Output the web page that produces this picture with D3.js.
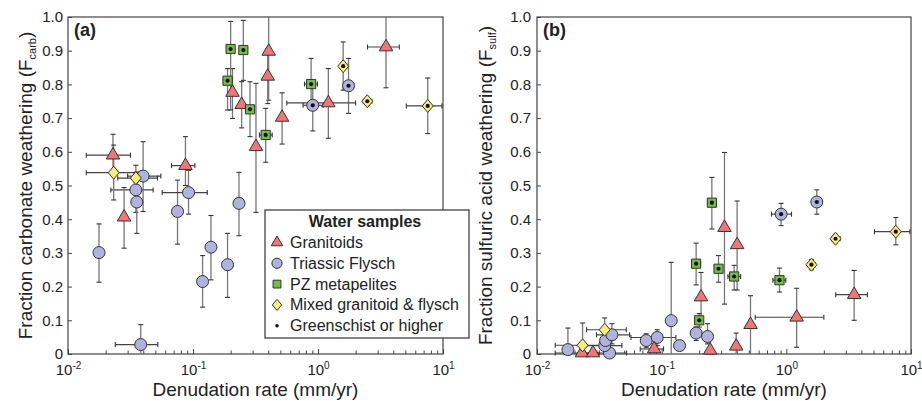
<!DOCTYPE html>
<html>
<head>
<meta charset="utf-8">
<script src="https://cdn.jsdelivr.net/npm/d3@7"></script>
<style>
body { margin: 0; background: #fff; }
svg { font-family: "Liberation Sans", Arial, sans-serif; }
</style>
</head>
<body>
<svg id="chart" width="922" height="401"></svg>
<script>
// one row per water sample:
// [rate, rateLo, rateHi, fcarb, fcarbLo, fcarbHi, fsulf, fsulfLo, fsulfHi, greenschist]
var granitoids = [
    [0.0229, 0.0140, 0.0316, 0.590, 0.530, 0.652, 0.003, 0.003, 0.003, 0],
    [0.0281, 0.0281, 0.0281, 0.406, 0.314, 0.494, 0.003, 0.003, 0.003, 0],
    [0.0870, 0.0673, 0.1035, 0.559, 0.500, 0.645, 0.015, 0.000, 0.030, 0],
    [0.207, 0.207, 0.207, 0.776, 0.699, 0.847, 0.169, 0.100, 0.242, 0],
    [0.245, 0.245, 0.245, 0.740, 0.671, 0.808, 0.011, 0.000, 0.060, 0],
    [0.403, 0.403, 0.403, 0.898, 0.753, 1.050, 0.324, 0.190, 0.454, 0],
    [0.396, 0.396, 0.396, 0.824, 0.743, 0.905, 0.023, 0.000, 0.062, 0],
    [0.319, 0.319, 0.319, 0.615, 0.420, 0.803, 0.375, 0.148, 0.598, 0],
    [0.516, 0.516, 0.516, 0.702, 0.623, 0.775, 0.087, 0.000, 0.173, 0],
    [1.21, 0.563, 2.00, 0.745, 0.640, 0.847, 0.109, 0.020, 0.195, 0],
    [3.50, 2.49, 4.47, 0.911, 0.790, 1.030, 0.176, 0.100, 0.248, 0]
];

var flysch = [
    [0.0177, 0.0177, 0.0177, 0.301, 0.213, 0.386, 0.013, 0.000, 0.077, 0],
    [0.0382, 0.0239, 0.0523, 0.028, 0.000, 0.087, 0.003, 0.003, 0.003, 0],
    [0.0349, 0.0220, 0.0480, 0.487, 0.420, 0.560, 0.025, 0.000, 0.050, 0],
    [0.0355, 0.0355, 0.0355, 0.451, 0.358, 0.540, 0.040, 0.010, 0.070, 0],
    [0.0399, 0.0300, 0.0553, 0.528, 0.423, 0.630, 0.057, 0.030, 0.090, 0],
    [0.0752, 0.0752, 0.0752, 0.423, 0.326, 0.516, 0.040, 0.020, 0.060, 0],
    [0.0921, 0.0567, 0.1300, 0.479, 0.415, 0.545, 0.049, 0.025, 0.072, 0],
    [0.1193, 0.1193, 0.1193, 0.215, 0.139, 0.292, 0.099, 0.000, 0.272, 0],
    [0.1392, 0.1392, 0.1392, 0.317, 0.220, 0.411, 0.025, 0.025, 0.025, 0],
    [0.189, 0.189, 0.189, 0.265, 0.168, 0.358, 0.062, 0.040, 0.080, 0],
    [0.2333, 0.222, 0.247, 0.447, 0.351, 0.539, 0.052, 0.030, 0.090, 0],
    [0.908, 0.760, 1.100, 0.738, 0.662, 0.810, 0.415, 0.381, 0.447, 1],
    [1.755, 1.650, 1.870, 0.796, 0.714, 0.877, 0.451, 0.415, 0.487, 1]
];

var metapelites = [
    [0.200, 0.190, 0.210, 0.905, 0.724, 0.987, 0.100, 0.080, 0.120, 1],
    [0.2527, 0.236, 0.272, 0.902, 0.812, 0.990, 0.449, 0.371, 0.524, 1],
    [0.189, 0.175, 0.205, 0.811, 0.724, 0.847, 0.268, 0.205, 0.329, 1],
    [0.2858, 0.266, 0.305, 0.726, 0.645, 0.808, 0.253, 0.213, 0.292, 1],
    [0.3815, 0.340, 0.430, 0.650, 0.569, 0.729, 0.230, 0.190, 0.263, 1],
    [0.881, 0.780, 0.990, 0.801, 0.725, 0.877, 0.219, 0.184, 0.255, 1]
];

var mixed = [
    [0.0232, 0.0140, 0.0380, 0.538, 0.457, 0.620, 0.026, 0.000, 0.092, 0],
    [0.0349, 0.0250, 0.0520, 0.522, 0.510, 0.535, 0.072, 0.040, 0.107, 0],
    [1.59, 1.50, 1.70, 0.854, 0.783, 0.926, 0.265, 0.250, 0.280, 1],
    [2.48, 2.30, 2.70, 0.750, 0.740, 0.760, 0.342, 0.330, 0.355, 1],
    [7.55, 5.09, 9.80, 0.736, 0.654, 0.819, 0.363, 0.324, 0.405, 1]
];

var yTicks = [0, 0.1, 0.2, 0.3, 0.4, 0.5, 0.6, 0.7, 0.8, 0.9, 1.0];
var xDecades = [0.01, 0.1, 1, 10];
var legendTitle = "Water samples";
var legendLabels = ["Granitoids", "Triassic Flysch", "PZ metapelites", "Mixed granitoid & flysch", "Greenschist or higher"];

// drawing order: circles under triangles etc.
var groups = [
    {rows: flysch, shape: "circle", fill: "#b1b2dd"},
    {rows: granitoids, shape: "triangle", fill: "#f27577"},
    {rows: metapelites, shape: "square", fill: "#72bf47"},
    {rows: mixed, shape: "diamond", fill: "#f7ef7a"}
];
var legendShapes = [
    {shape: "triangle", fill: "#f27577"},
    {shape: "circle", fill: "#b1b2dd"},
    {shape: "square", fill: "#72bf47"},
    {shape: "diamond", fill: "#f7ef7a"},
    {shape: "dot", fill: "#111"}
];

var svg = d3.select("#chart");

function shapePath(shape, s) {
    // s = scale factor, 1 for plot markers
    if (shape == "circle") {
        var r = 6 * s;
        return "M" + (-r) + ",0A" + r + "," + r + " 0 1,0 " + r + ",0A" + r + "," + r + " 0 1,0 " + (-r) + ",0Z";
    }
    if (shape == "triangle") {
        var w = 13.5 * s, h = 11.5 * s;
        return "M0," + (-h * 2 / 3) + "L" + (w / 2) + "," + (h / 3) + "L" + (-w / 2) + "," + (h / 3) + "Z";
    }
    if (shape == "square") {
        var a = 4.6 * s;
        return "M" + (-a) + "," + (-a) + "H" + a + "V" + a + "H" + (-a) + "Z";
    }
    if (shape == "diamond") {
        var dx = 5.5 * s, dy = 6.5 * s;
        return "M0," + (-dy) + "L" + dx + ",0L0," + dy + "L" + (-dx) + ",0Z";
    }
    var rd = 2 * s;
    return "M" + (-rd) + ",0A" + rd + "," + rd + " 0 1,0 " + rd + ",0A" + rd + "," + rd + " 0 1,0 " + (-rd) + ",0Z";
}

function drawPanel(opt) {
    var x = d3.scaleLog().domain([0.01, 10]).range([opt.left, opt.right]);
    var y = d3.scaleLinear().domain([0, 1]).range([opt.bottom, opt.top]);
    var vi = opt.col; // index of the fraction column

    var g = svg.append("g");

    // minor log ticks inside the bottom edge
    var minor = [];
    [0.01, 0.1, 1].forEach(function(dec) {
        for (var k = 2; k <= 9; k++) minor.push(k * dec);
    });
    g.append("g")
        .attr("transform", "translate(0," + opt.bottom + ")")
        .call(d3.axisBottom(x).tickValues(minor).tickSize(-3.5).tickFormat(""))
        .call(function(a) { a.select(".domain").remove(); })
        .selectAll("line").attr("stroke", "#444");

    var gx = g.append("g")
        .attr("transform", "translate(0," + opt.bottom + ")")
        .call(d3.axisBottom(x).tickValues(xDecades).tickSize(-5).tickPadding(10));
    gx.select(".domain").remove();
    gx.selectAll("line").attr("stroke", "#444");
    gx.selectAll(".tick text")
        .attr("font-size", 15)
        .attr("fill", "#222")
        .each(function(d) {
            var t = d3.select(this).text("");
            t.append("tspan").text("10");
            t.append("tspan").attr("dy", "-0.55em").attr("font-size", 10)
                .text(Math.round(Math.log10(d)));
        });

    var gy = g.append("g")
        .attr("transform", "translate(" + opt.left + ",0)")
        .call(d3.axisLeft(y).tickValues(yTicks).tickSize(-4).tickPadding(opt.pad)
            .tickFormat(function(d) { return d == 0 ? "0" : d3.format(".1f")(d); }));
    gy.select(".domain").remove();
    gy.selectAll("line").attr("stroke", "#444");
    gy.selectAll("text").attr("font-size", 15).attr("fill", "#222");

    // frame
    g.append("rect")
        .attr("x", opt.left).attr("y", opt.top)
        .attr("width", opt.right - opt.left).attr("height", opt.bottom - opt.top)
        .attr("fill", "none").attr("stroke", "#444").attr("stroke-width", 1.2);

    function yc(v) { return y(Math.max(0, Math.min(1, v))); }

    //error bars
    var eb = g.append("g").attr("fill", "none");
    groups.forEach(function(grp) {
        grp.rows.forEach(function(r) {
            var cx = x(r[0]), cy = y(r[vi]);
            if (r[vi + 1] != r[vi + 2]) {
                var y1 = yc(r[vi + 1]), y2 = yc(r[vi + 2]);
                eb.append("line").attr("x1", cx).attr("x2", cx).attr("y1", y1).attr("y2", y2)
                    .attr("stroke", "#777").attr("stroke-width", 1.3);
                [r[vi + 1], r[vi + 2]].forEach(function(v) {
                    if (v < 0.001 || v > 0.999) return;
                    eb.append("line").attr("x1", cx - 2.5).attr("x2", cx + 2.5)
                        .attr("y1", y(v)).attr("y2", y(v))
                        .attr("stroke", "#333").attr("stroke-width", 1.1);
                });
            }
            if (r[1] != r[2]) {
                eb.append("line").attr("x1", x(r[1])).attr("x2", x(r[2])).attr("y1", cy).attr("y2", cy)
                    .attr("stroke", "#444").attr("stroke-width", 1.2);
                [r[1], r[2]].forEach(function(v) {
                    eb.append("line").attr("x1", x(v)).attr("x2", x(v))
                        .attr("y1", cy - 2.5).attr("y2", cy + 2.5)
                        .attr("stroke", "#333").attr("stroke-width", 1.1);
                });
            }
        });
    });

    //markers
    var mk = g.append("g");
    groups.forEach(function(grp) {
        mk.selectAll(null)
            .data(grp.rows)
            .enter().append("path")
            .attr("d", shapePath(grp.shape, 1))
            .attr("transform", function(r) { return "translate(" + x(r[0]) + "," + y(r[vi]) + ")"; })
            .attr("fill", grp.fill)
            .attr("stroke", "#333")
            .attr("stroke-width", 1);
    });
    groups.forEach(function(grp) {
        mk.selectAll(null)
            .data(grp.rows.filter(function(r) { return r[9] == 1; }))
            .enter().append("circle")
            .attr("cx", function(r) { return x(r[0]); })
            .attr("cy", function(r) { return y(r[vi]); })
            .attr("r", 2.1)
            .attr("fill", "#111");
    });

    // axis titles
    g.append("text")
        .attr("x", (opt.left + opt.right) / 2).attr("y", 396)
        .attr("text-anchor", "middle").attr("font-size", 19).attr("fill", "#222")
        .text("Denudation rate (mm/yr)");

    var yt = g.append("text")
        .attr("transform", "translate(" + opt.titleX + "," + ((opt.top + opt.bottom) / 2) + ") rotate(-90)")
        .attr("text-anchor", "middle").attr("font-size", 19).attr("fill", "#222");
    yt.append("tspan").text(opt.yTitle + " (F");
    yt.append("tspan").attr("font-size", 11).attr("dy", 4).text(opt.sub);
    yt.append("tspan").attr("dy", -4).text(")");

    g.append("text")
        .attr("x", opt.left + 6).attr("y", 36)
        .attr("font-size", 18).attr("font-weight", "bold").attr("fill", "#222")
        .text(opt.label);
}

drawPanel({left: 68, right: 443, top: 17, bottom: 354, col: 3, pad: 5, titleX: 32,
    yTitle: "Fraction carbonate weathering", sub: "carb", label: "(a)"});
drawPanel({left: 537, right: 911, top: 17, bottom: 354, col: 6, pad: 6, titleX: 492,
    yTitle: "Fraction sulfuric acid weathering", sub: "sulf", label: "(b)"});

//legend sits over the right edge of panel (a)
var lg = svg.append("g");
lg.append("rect")
    .attr("x", 265).attr("y", 210).attr("width", 204).attr("height", 128)
    .attr("fill", "#fff").attr("stroke", "#333").attr("stroke-width", 1.2);
lg.append("text")
    .attr("x", 365).attr("y", 227)
    .attr("text-anchor", "middle").attr("font-size", 16).attr("font-weight", "bold").attr("fill", "#222")
    .text(legendTitle);
legendLabels.forEach(function(lab, i) {
    var yy = 248 + i * 20.8;
    var s = legendShapes[i];
    lg.append("path")
        .attr("d", shapePath(s.shape, s.shape == "dot" ? 0.9 : 0.85))
        .attr("transform", "translate(277," + (yy - 5.5) + ")")
        .attr("fill", s.fill)
        .attr("stroke", s.shape == "dot" ? "none" : "#333");
    lg.append("text")
        .attr("x", 290).attr("y", yy)
        .attr("font-size", 16).attr("fill", "#222")
        .text(lab);
});
</script>
</body>
</html>
